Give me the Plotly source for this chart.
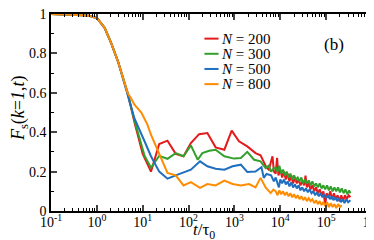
import plotly.graph_objects as go

# ---- data (log10 of t/tau0, and F_s) ----
logt_common = [-1.0, -0.7, -0.5, -0.3, -0.15, 0.0, 0.17, 0.31, 0.46, 0.6, 0.67]
F_common = [1.0, 0.999, 0.997, 0.994, 0.99, 0.98, 0.93, 0.853, 0.76, 0.65, 0.6]

logt_200 = [0.82, 1.0, 1.18, 1.36, 1.54, 1.72, 1.89, 2.05, 2.23, 2.41, 2.59, 2.78, 2.94, 3.1, 3.28,
            3.46, 3.57, 3.64, 3.7, 3.75, 3.8, 3.83, 3.86,
            3.90, 3.93, 3.96, 4.00, 4.04, 4.08, 4.12, 4.16, 4.20, 4.24, 4.28, 4.32, 4.36, 4.40,
            4.44, 4.48, 4.52, 4.55, 4.58, 4.62, 4.66, 4.70, 4.74, 4.78, 4.82, 4.86, 4.90, 4.94,
            4.98, 5.01, 5.05, 5.09, 5.13, 5.17, 5.21, 5.25, 5.29, 5.33, 5.37, 5.41, 5.45, 5.49, 5.53]
F_200 = [0.45, 0.29, 0.20, 0.34, 0.357, 0.29, 0.278, 0.345, 0.39, 0.396, 0.323, 0.311, 0.408, 0.354, 0.328,
         0.294, 0.283, 0.244, 0.22, 0.21, 0.25, 0.278, 0.2,
         0.19, 0.27, 0.18, 0.21, 0.17, 0.2, 0.16, 0.19, 0.15, 0.18, 0.14, 0.17, 0.14, 0.16,
         0.13, 0.15, 0.13, 0.18, 0.12, 0.14, 0.11, 0.13, 0.10, 0.12, 0.09, 0.11, 0.08, 0.10,
         0.03, 0.09, 0.07, 0.10, 0.06, 0.09, 0.06, 0.08, 0.05, 0.08, 0.05, 0.08, 0.06, 0.08, 0.07]

logt_300 = [0.82, 1.04, 1.18, 1.36, 1.54, 1.72, 1.89, 2.05, 2.2, 2.3, 2.45, 2.59, 2.78, 2.99, 3.14,
            3.28, 3.43, 3.57, 3.68, 3.75, 3.80, 3.86,
            3.90, 3.94, 3.98, 4.02, 4.06, 4.10, 4.14, 4.18, 4.22, 4.26, 4.30, 4.34, 4.38, 4.42,
            4.46, 4.50, 4.54, 4.58, 4.62, 4.66, 4.70, 4.74, 4.78, 4.82, 4.86, 4.90, 4.94, 4.98,
            5.02, 5.06, 5.10, 5.14, 5.18, 5.22, 5.26, 5.30, 5.34, 5.38, 5.42, 5.46, 5.50, 5.53]
F_300 = [0.46, 0.28, 0.22, 0.28, 0.265, 0.294, 0.278, 0.333, 0.26, 0.294, 0.306, 0.311, 0.278, 0.266, 0.269,
         0.30, 0.26, 0.252, 0.218, 0.23, 0.20, 0.218,
         0.22, 0.20, 0.23, 0.19, 0.21, 0.18, 0.20, 0.17, 0.19, 0.16, 0.18, 0.16, 0.17, 0.15,
         0.17, 0.14, 0.16, 0.14, 0.155, 0.13, 0.15, 0.125, 0.14, 0.12, 0.14, 0.115, 0.13, 0.11,
         0.13, 0.105, 0.125, 0.10, 0.12, 0.10, 0.12, 0.095, 0.115, 0.09, 0.11, 0.085, 0.105, 0.09]

logt_500 = [0.82, 1.04, 1.18, 1.36, 1.54, 1.72, 1.89, 2.05, 2.25, 2.41, 2.59, 2.78, 2.96, 3.14, 3.28,
            3.46, 3.59, 3.64, 3.70, 3.80, 3.86,
            3.90, 3.94, 3.97, 4.00, 4.04, 4.08, 4.12, 4.16, 4.20, 4.24, 4.28, 4.32, 4.36, 4.40,
            4.44, 4.48, 4.52, 4.56, 4.60, 4.64, 4.68, 4.72, 4.76, 4.80, 4.84, 4.88, 4.92, 4.96,
            5.00, 5.04, 5.08, 5.12, 5.16, 5.20, 5.24, 5.28, 5.32, 5.36, 5.40, 5.44, 5.48, 5.53]
F_500 = [0.47, 0.354, 0.278, 0.20, 0.164, 0.181, 0.198, 0.21, 0.252, 0.227, 0.215, 0.21, 0.227, 0.235, 0.198,
         0.20, 0.222, 0.168, 0.188, 0.181, 0.15,
         0.17, 0.14, 0.12, 0.16, 0.14, 0.16, 0.135, 0.15, 0.125, 0.145, 0.12, 0.135, 0.115, 0.13,
         0.105, 0.12, 0.10, 0.115, 0.095, 0.11, 0.09, 0.10, 0.08, 0.095, 0.075, 0.09, 0.07, 0.085,
         0.065, 0.08, 0.06, 0.075, 0.055, 0.07, 0.05, 0.065, 0.045, 0.06, 0.04, 0.06, 0.045, 0.055]

logt_800 = [0.75, 0.82, 0.97, 1.1, 1.18, 1.36, 1.54, 1.72, 1.89, 2.05, 2.25, 2.41, 2.59, 2.78, 2.96,
            3.14, 3.32, 3.46, 3.57, 3.68, 3.79, 3.85,
            3.90, 3.94, 3.98, 4.02, 4.06, 4.10, 4.14, 4.18, 4.22, 4.26, 4.30, 4.34, 4.38, 4.42,
            4.46, 4.50, 4.54, 4.58, 4.62, 4.66, 4.70, 4.74, 4.78, 4.82, 4.86, 4.90, 4.94, 4.98,
            5.02, 5.06, 5.10, 5.14, 5.18, 5.22, 5.26, 5.30, 5.34]
F_800 = [0.57, 0.54, 0.50, 0.44, 0.387, 0.286, 0.193, 0.181, 0.13, 0.147, 0.117, 0.137, 0.13, 0.154, 0.137,
         0.13, 0.137, 0.12, 0.168, 0.12, 0.091, 0.108,
         0.10, 0.08, 0.105, 0.085, 0.10, 0.08, 0.095, 0.075, 0.09, 0.07, 0.085, 0.065, 0.08, 0.06,
         0.075, 0.055, 0.07, 0.05, 0.065, 0.05, 0.06, 0.04, 0.055, 0.035, 0.05, 0.03, 0.045, 0.025,
         0.045, 0.02, 0.04, 0.02, 0.035, 0.015, 0.035, 0.02, 0.03]

series_names = ["200", "300", "500", "800"]
series_logt = [logt_200, logt_300, logt_500, logt_800]
series_F = [F_200, F_300, F_500, F_800]
colors = ["#e41a1c", "#33a02c", "#1f6fc0", "#ff8c00"]

x_exponents = [-1, 0, 1, 2, 3, 4, 5, 6]
x_ticktext = ["10<sup>-1</sup>"] + ["10<sup>%d</sup>" % e for e in x_exponents[1:]]
y_tickvals = [0, 0.2, 0.4, 0.6, 0.8, 1]
y_ticktext = ["0", "0.2", "0.4", "0.6", "0.8", "1"]

SERIF = "Liberation Serif"

fig = go.Figure()
for name, lt, F, c in zip(series_names, series_logt, series_F, colors):
    xs = [10 ** v for v in logt_common + lt]
    ys = F_common + F
    fig.add_trace(go.Scatter(x=xs, y=ys, mode="lines", name="N = " + name,
                             line=dict(color=c, width=2), showlegend=False))

# manual legend
leg_x0, leg_x1, leg_y0, leg_dy = 0.478, 0.522, 0.875, 0.077
for i, (name, c) in enumerate(zip(series_names, colors)):
    yy = leg_y0 - i * leg_dy
    fig.add_shape(type="line", xref="paper", yref="paper", x0=leg_x0, x1=leg_x1, y0=yy, y1=yy,
                  line=dict(color=c, width=2))
    fig.add_annotation(xref="paper", yref="paper", x=leg_x1 + 0.006, y=yy, xanchor="left",
                       yanchor="middle", showarrow=False, borderpad=0,
                       text="<i>N</i> = " + name, font=dict(family=SERIF, size=15, color="black"))

fig.add_annotation(xref="paper", yref="paper", x=0.918, y=0.905, showarrow=False,
                   text="(b)", font=dict(family=SERIF, size=17, color="black"))
fig.add_annotation(xref="paper", yref="paper", x=0.478, y=-0.1, showarrow=False,
                   yanchor="middle", borderpad=0, text="<i>t</i>/τ<sub>0</sub>",
                   font=dict(family=SERIF, size=17, color="black"))
fig.add_annotation(xref="paper", yref="paper", x=-0.098, y=0.52, showarrow=False,
                   textangle=-90, xanchor="center", yanchor="middle", borderpad=0,
                   text="<i>F</i><sub>s</sub>(<i>k</i>=<i>1</i>,<i>t</i>)",
                   font=dict(family=SERIF, size=18, color="black"))

minor_x = [m * 10 ** e for e in range(-1, 6) for m in range(2, 10)]
fig.update_xaxes(type="log", range=[-1, 6], tickvals=[10 ** e for e in x_exponents],
                 ticktext=x_ticktext, automargin=False, ticklabeloverflow="allow",
                 ticklabelstandoff=-3,
                 ticks="inside", ticklen=6, tickwidth=1.5,
                 showline=True, linewidth=1.5, linecolor="black", mirror="allticks",
                 showgrid=False, zeroline=False,
                 tickfont=dict(family=SERIF, size=14, color="black"),
                 minor=dict(tickvals=minor_x, ticks="inside", ticklen=3, tickwidth=1,
                            tickcolor="black", showgrid=False))
fig.update_yaxes(range=[0, 1], tickvals=y_tickvals, ticktext=y_ticktext, automargin=False,
                 ticklabeloverflow="allow",
                 ticks="inside", ticklen=6, tickwidth=1.5,
                 showline=True, linewidth=1.5, linecolor="black", mirror="allticks",
                 showgrid=False, zeroline=False,
                 tickfont=dict(family=SERIF, size=14, color="black"),
                 minor=dict(tickvals=[0.1, 0.3, 0.5, 0.7, 0.9], ticks="inside", ticklen=3,
                            tickwidth=1, tickcolor="black", showgrid=False))
fig.update_layout(width=374, height=240, margin=dict(l=43, r=10, t=6, b=37),
                  paper_bgcolor="white", plot_bgcolor="white")
fig.write_html("out.html")
